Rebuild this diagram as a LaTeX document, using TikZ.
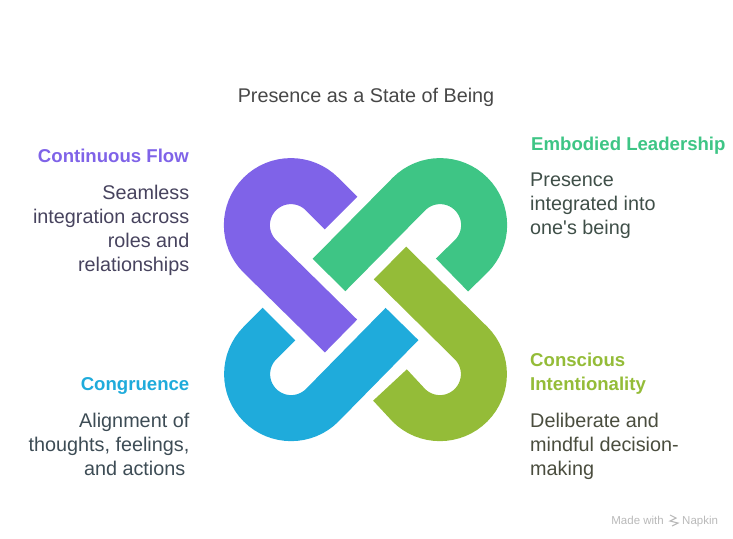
\documentclass[tikz,border=0pt]{standalone}
\usepackage{fontspec}
\usepackage{xcolor}
\setmainfont{Liberation Sans}[Ligatures=TeXOff]
\definecolor{flowcol}{HTML}{7F63E8}
\definecolor{leadcol}{HTML}{3EC585}
\definecolor{intentcol}{HTML}{94BC38}
\definecolor{congcol}{HTML}{1FABDB}
\definecolor{flowtxt}{HTML}{47435E}
\definecolor{leadtxt}{HTML}{3F4F48}
\definecolor{intenttxt}{HTML}{4A4D3E}
\definecolor{congtxt}{HTML}{3D4C55}
\definecolor{marktxt}{HTML}{B9B9B9}

\begin{document}
\begin{tikzpicture}[
    x=1pt, y=-1pt,
    link/.style={line width=46pt, line cap=butt},
    heading/.style={inner sep=0pt, font=\fontsize{18.6}{24}\selectfont\bfseries},
    body/.style={inner sep=0pt, text=#1, font=\fontsize{19.8}{24}\selectfont},
    leftbody/.style={body=#1, align=right, anchor=north east},
    rightbody/.style={body=#1, align=left, anchor=north west},
    mark text/.style={inner sep=0pt, text=marktxt, font=\fontsize{11.5}{13}\selectfont}
]
    \useasboundingbox (0,0) rectangle (733,538);

    % Links
    \draw[link, flowcol] (341,213) -- (322,194) arc[start angle=45, delta angle=180, radius=44pt] -- (341,336);
    \draw[link, leadcol] (329,275) -- (409,194) arc[start angle=135, delta angle=-180, radius=44pt] -- (452,275);
    \draw[link, intentcol] (390,263) -- (471,343) arc[start angle=45, delta angle=-180, radius=44pt] -- (390,385);
    \draw[link, congcol] (279,324) -- (260,343) arc[start angle=135, delta angle=180, radius=44pt] -- (402,324);

    % Title
    \node[inner sep=0pt, anchor=base, text=black!72, font=\fontsize{19.8}{24}\selectfont] (title) at (366,102.5) {Presence as a State of Being};

    % Labels
    \node[heading, text=flowcol, anchor=base east] (flowhead) at (189,162) {Continuous Flow};
    \node[leftbody=flowtxt] (flowtext) at (189.5,184.5) {Seamless\\integration across\\roles and\\relationships};
    \node[heading, text=leadcol, anchor=base west] (leadhead) at (531,150) {Embodied Leadership};
    \node[rightbody=leadtxt] (leadtext) at (530,172.5) {Presence\\integrated into\\one's being};
    \node[heading, text=intentcol, anchor=north west, align=left] (intenthead) at (530,352.5) {Conscious\\Intentionality};
    \node[rightbody=intenttxt] (intenttext) at (530,412.5) {Deliberate and\\mindful decision-\\making};
    \node[heading, text=congcol, anchor=base east] (conghead) at (189.5,390) {Congruence};
    \node[leftbody=congtxt] (congtext) at (189.5,412.5) {Alignment of\\thoughts, feelings,\\and actions\rule{4pt}{0pt}};

    % Watermark
    \node[mark text, anchor=base east] (madewith) at (664,524) {Made with};
    \node[mark text, anchor=base west] (napkin) at (682,524) {Napkin};
    \draw[marktxt, line width=1.1pt] (670,515) -- (676,518) -- (670,521) -- (678,523) -- (672,526);
\end{tikzpicture}
\end{document}
